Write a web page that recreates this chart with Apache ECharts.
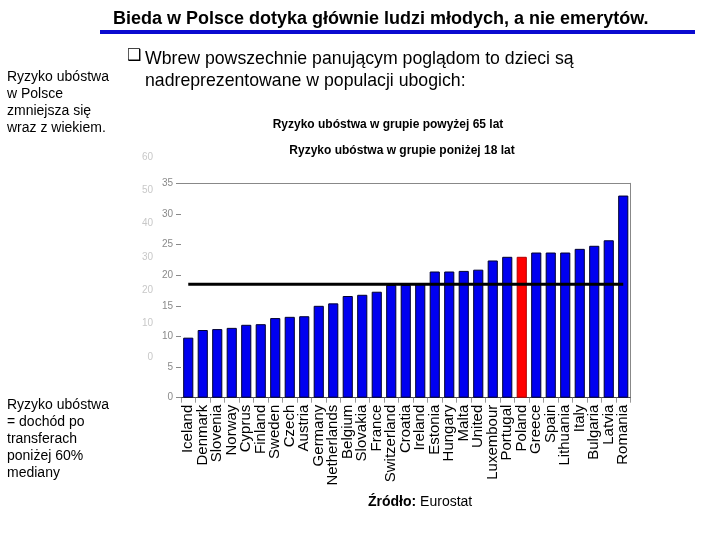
<!DOCTYPE html>
<html>
<head>
<meta charset="utf-8">
<script src="https://cdn.jsdelivr.net/npm/echarts@6/dist/echarts.min.js"></script>
<style>html,body{margin:0;padding:0;background:#fff}#c{width:720px;height:540px}</style>
</head>
<body>
<div id="c"></div>
<script>
var countries = ['Iceland','Denmark','Slovenia','Norway','Cyprus','Finland','Sweden','Czech','Austria','Germany','Netherlands','Belgium','Slovakia','France','Switzerland','Croatia','Ireland','Estonia','Hungary','Malta','United','Luxembour','Portugal','Poland','Greece','Spain','Lithuania','Italy','Bulgaria','Latvia','Romania'];
var povertyUnder18 = [9.8,11.05,11.2,11.4,11.9,12.0,13.0,13.2,13.3,15.0,15.4,16.6,16.8,17.3,18.4,18.4,18.7,20.6,20.6,20.7,20.9,22.4,23.0,23.0,23.7,23.7,23.7,24.3,24.8,25.7,33.0];
var averageLevel = 18.5;
var highlighted = 'Poland';
var mainAxisMin = 0, mainAxisMax = 35, mainAxisStep = 5;
var ghostAxisMin = 0, ghostAxisMax = 60, ghostAxisStep = 10;

var FONT = 'Liberation Sans, Arial, sans-serif';
var chart = echarts.init(document.getElementById('c'), null, {renderer: 'canvas'});

var barData = povertyUnder18.map(function (v, i) {
  return {
    value: v,
    itemStyle: { color: countries[i] === highlighted ? '#ff0000' : '#0000f0',
                 borderColor: countries[i] === highlighted ? '#b00000' : '#000030', borderWidth: 1 }
  };
});
var avgData = countries.map(function () { return averageLevel; });

chart.setOption({
  animation: false,
  backgroundColor: '#ffffff',
  textStyle: { fontFamily: FONT },
  title: [
    { text: 'Ryzyko ubóstwa w grupie powyżej 65 lat', left: 383, top: 114, textAlign: 'center',
      textStyle: { fontSize: 12, fontWeight: 'bold', color: '#000', fontFamily: FONT } },
    { text: 'Ryzyko ubóstwa w grupie poniżej 18 lat', left: 397, top: 140, textAlign: 'center',
      textStyle: { fontSize: 12, fontWeight: 'bold', color: '#000', fontFamily: FONT } }
  ],
  grid: [
    { left: 181, right: 89.5, top: 183.3, bottom: 142.3, outerBoundsMode: 'none', containLabel: false },
    { left: 156, width: 10, top: 157, bottom: 183, outerBoundsMode: 'none', containLabel: false }
  ],
  xAxis: [
    { type: 'category', gridIndex: 0, data: countries, position: 'bottom',
      axisLine: { show: true, onZero: false, lineStyle: { color: '#444', width: 1 } },
      axisTick: { show: true, length: 5, lineStyle: { color: '#999' } },
      axisLabel: { rotate: 90, fontSize: 15, color: '#000', margin: 7, interval: 0, fontFamily: FONT } },
    { type: 'category', gridIndex: 0, data: countries, position: 'top',
      axisLine: { show: true, onZero: false, lineStyle: { color: '#888', width: 1 } },
      axisTick: { show: false }, axisLabel: { show: false } },
    { type: 'value', gridIndex: 1, show: false, min: 0, max: 1 }
  ],
  yAxis: [
    { type: 'value', gridIndex: 0, min: mainAxisMin, max: mainAxisMax, interval: mainAxisStep, position: 'left',
      axisLine: { show: false },
      axisTick: { show: true, length: 5, lineStyle: { color: '#888' } },
      splitLine: { show: false },
      axisLabel: { fontSize: 10, color: '#8a8a8a', margin: 8, fontFamily: FONT } },
    { type: 'value', gridIndex: 0, min: mainAxisMin, max: mainAxisMax, position: 'right',
      axisLine: { show: true, onZero: false, lineStyle: { color: '#888', width: 1 } },
      axisTick: { show: false }, axisLabel: { show: false }, splitLine: { show: false } },
    { type: 'value', gridIndex: 1, min: ghostAxisMin, max: ghostAxisMax, interval: ghostAxisStep, position: 'left',
      axisLine: { show: false }, axisTick: { show: false }, splitLine: { show: false },
      axisLabel: { fontSize: 10, color: '#c8c8c8', margin: 3, fontFamily: FONT } }
  ],
  series: [
    { type: 'bar', xAxisIndex: 0, yAxisIndex: 0, data: barData, barCategoryGap: '30%' },
    { type: 'line', xAxisIndex: 0, yAxisIndex: 0, data: avgData, symbol: 'none',
      lineStyle: { color: '#000', width: 3 }, z: 5 },
    { type: 'scatter', xAxisIndex: 2, yAxisIndex: 2, data: [], silent: true }
  ],
  graphic: [
    { type: 'text', left: 113, top: 10, style: { text: 'Bieda w Polsce dotyka głównie ludzi młodych, a nie emerytów.',
      font: 'bold 18px ' + FONT, fill: '#000' } },
    { type: 'rect', shape: { x: 100, y: 30, width: 595, height: 4 }, style: { fill: '#0a0ad0' } },
    { type: 'text', left: 127, top: 48, style: { text: '❑', font: '16px DejaVu Sans', fill: '#000' } },
    { type: 'text', left: 145, top: 48, style: { text: 'Wbrew powszechnie panującym poglądom to dzieci są\nnadreprezentowane w populacji ubogich:',
      font: '17.7px ' + FONT, lineHeight: 22, fill: '#000' } },
    { type: 'text', left: 7, top: 69, style: { text: 'Ryzyko ubóstwa\nw Polsce\nzmniejsza się\nwraz z wiekiem.',
      font: '14px ' + FONT, lineHeight: 17, fill: '#000' } },
    { type: 'text', left: 7, top: 397, style: { text: 'Ryzyko ubóstwa\n= dochód po\ntransferach\nponiżej 60%\nmediany',
      font: '14px ' + FONT, lineHeight: 17, fill: '#000' } },
    { type: 'text', left: 368, top: 495, style: { text: '{b|Źródło:} Eurostat', font: '14px ' + FONT, fill: '#000',
      rich: { b: { fontWeight: 'bold', fontSize: 14, fontFamily: FONT } } } }
  ]
});
</script>
</body>
</html>
